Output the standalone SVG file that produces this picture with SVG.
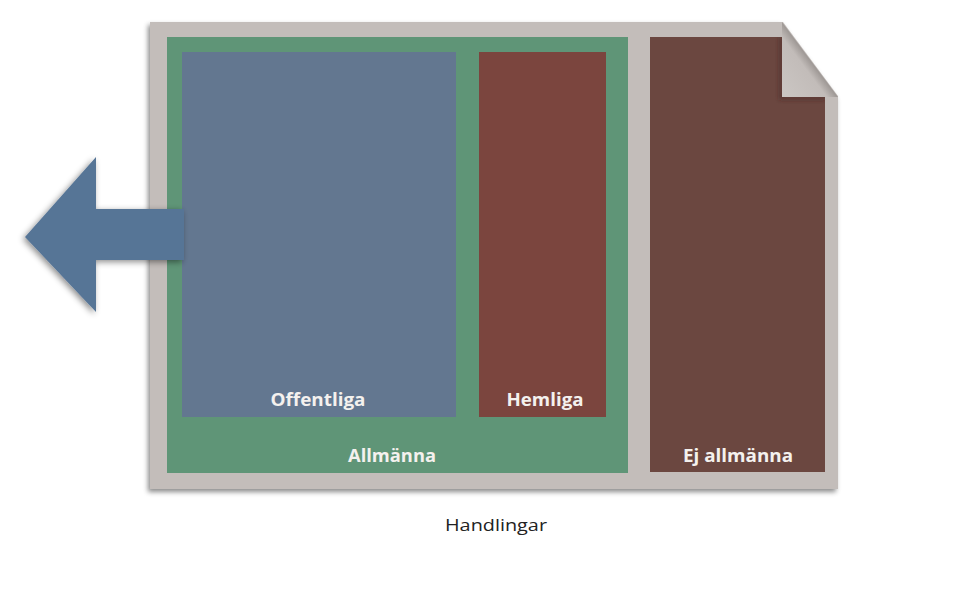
<svg xmlns="http://www.w3.org/2000/svg" width="974" height="613" viewBox="0 0 974 613">
<style>
.lbl{font-family:"Open Sans","Liberation Sans",Arial,sans-serif;font-weight:bold;font-size:17px;fill:#f4f1ee;text-anchor:middle}
.cap{font-family:"Open Sans","Liberation Sans",Arial,sans-serif;font-size:17px;fill:#222;text-anchor:middle}
</style>
<defs>
<filter id="sh" x="-10%" y="-10%" width="120%" height="120%">
<feDropShadow dx="-2" dy="3" stdDeviation="2.5" flood-color="#000" flood-opacity="0.45"/>
</filter>
<filter id="ash" x="-20%" y="-20%" width="140%" height="140%">
<feDropShadow dx="-2" dy="2" stdDeviation="3" flood-color="#000" flood-opacity="0.45"/>
</filter>
<filter id="blur" x="-20%" y="-20%" width="140%" height="140%">
<feGaussianBlur stdDeviation="2"/>
</filter>
<clipPath id="ejclip">
<polygon points="650,37 782,37 782,97 825,97 825,472 650,472"/>
</clipPath>
<linearGradient id="fold" x1="0" y1="1" x2="0.5" y2="0.5">
<stop offset="0" stop-color="#cbc6c3"/>
<stop offset="0.8" stop-color="#c2bcb9"/>
<stop offset="1" stop-color="#9d9794"/>
</linearGradient>
</defs>
<rect width="974" height="613" fill="#fff"/>
<g id="handlingar">
<polygon points="150,22 783,22 838,96 838,489 150,489" fill="#c3bdba" filter="url(#sh)"/>
<polygon points="782,22 782,97 838,97" fill="url(#fold)"/>
<text class="cap" x="496" y="531" textLength="102" lengthAdjust="spacingAndGlyphs">Handlingar</text>
</g>
<g id="allmanna">
<rect x="167" y="37" width="461" height="436" fill="#5f9577"/>
<text class="lbl" x="392" y="462" textLength="88" lengthAdjust="spacingAndGlyphs">Allmänna</text>
</g>
<g id="offentliga">
<rect x="182" y="52" width="274" height="365" fill="#637790"/>
<text class="lbl" x="318" y="406" textLength="95" lengthAdjust="spacingAndGlyphs">Offentliga</text>
</g>
<g id="hemliga">
<rect x="479" y="52" width="127" height="365" fill="#7b453e"/>
<text class="lbl" x="545" y="406" textLength="77" lengthAdjust="spacingAndGlyphs">Hemliga</text>
</g>
<g id="ej-allmanna">
<polygon points="650,37 782,37 782,97 825,97 825,472 650,472" fill="#6b4740"/>
<g clip-path="url(#ejclip)">
<polyline points="781,37 781,98 825,98" fill="none" stroke="#3e2622" stroke-width="4" stroke-opacity="0.45" filter="url(#blur)"/>
</g>
<text class="lbl" x="738" y="462" textLength="110" lengthAdjust="spacingAndGlyphs">Ej allmänna</text>
</g>
<g id="connectors">
<polygon points="25,237 96,157 96,209 184,209 184,260 96,260 96,312" fill="#577596" filter="url(#ash)"/>
</g>
</svg>
